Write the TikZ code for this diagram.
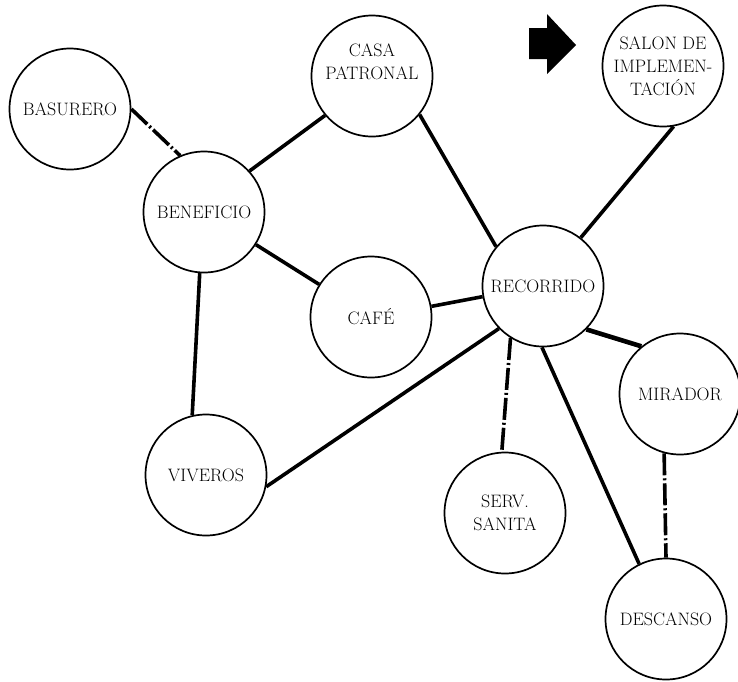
\documentclass[tikz,border=0pt]{standalone}
\usepackage{fontspec}
\usetikzlibrary{positioning}

\begin{document}
\begin{tikzpicture}[x=1pt, y=-1pt, font=\fontsize{18}{23}\selectfont,
  area/.style={draw, line width=1.7pt, circle, fill=white,
               minimum size=121pt, inner sep=0pt, align=center},
  link/.style={line width=3.6pt},
  aux/.style={line width=3.6pt, dash pattern=on 22pt off 3pt on 2pt off 3pt}]
  \useasboundingbox (0,0) rectangle (738,681);

  \node[area] (bas)  at (70,109)  {BASURERO};
  \node[area] (ben)  at (204,212) {BENEFICIO};
  \node[area] (casa) at (372,76)  {CASA\\PATRONAL\\[6pt]};
  \node[area] (sal)  at (663,66)  {SALON DE\\IMPLEMEN-\\TACIÓN};
  \node[area] (cafe) at (371,317) {CAFÉ};
  \node[area] (rec)  at (543,286) {RECORRIDO};
  \node[area] (viv)  at (206,475) {VIVEROS};
  \node[area] (mir)  at (680,394) {MIRADOR};
  \node[area] (serv) at (505,513) {SERV.\\SANITA};
  \node[area] (desc) at (666,619) {DESCANSO};

  \fill (529,28) -- (547,28) -- (547,14) -- (576,45) -- (547,74) -- (547,59) -- (529,59) -- cycle;

  \draw[aux]  (bas.0)    -- (ben.113);
  \draw[link] (ben.42)   -- (casa.220);
  \draw[link] (ben)      -- (cafe);
  \draw[link] (ben.-94)  -- (viv.103);
  \draw[link] (casa.-39) -- (rec.140);
  \draw[link] (sal.-80)  -- (rec.52);
  \draw[link] (cafe.10)  -- (rec.190);
  \draw[link] (viv.-11)  -- (rec.224);
  \draw[link, line width=4.6pt] (rec.-45) -- (mir.129);
  \draw[aux]  (rec.-122) -- (serv.93);
  \draw[link] (rec.-91)  -- (desc.116);
  \draw[aux]  (mir.-105) -- (desc.90);
\end{tikzpicture}
\end{document}
